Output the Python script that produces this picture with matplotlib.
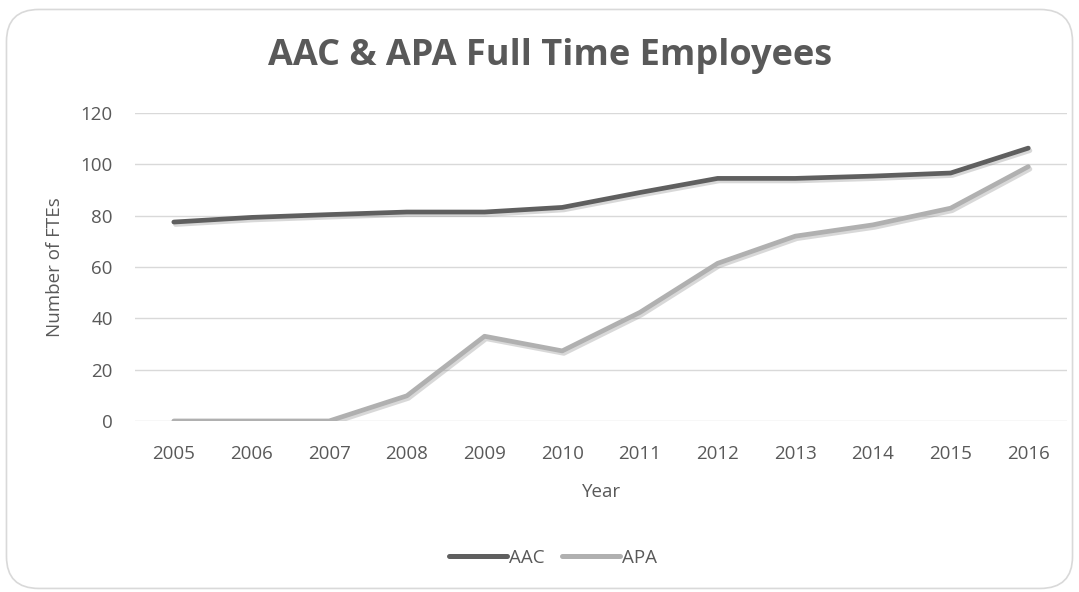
import matplotlib
matplotlib.use("Agg")
import matplotlib.pyplot as plt
import matplotlib.patheffects as pe
from matplotlib.patches import FancyBboxPatch

years = ["2005", "2006", "2007", "2008", "2009", "2010", "2011", "2012", "2013", "2014", "2015", "2016"]
aac = [77.5, 79.3, 80.4, 81.4, 81.4, 83.2, 89.0, 94.5, 94.5, 95.4, 96.6, 106.3]
apa = [0, 0, 0, 9.8, 33.0, 27.3, 42.3, 61.4, 72.0, 76.4, 82.9, 99.1]

plt.rcParams['font.family'] = ['Open Sans', 'DejaVu Sans']
txt = '#595959'
fs = 13.5

fig = plt.figure(figsize=(10.79, 5.92), dpi=100)
frame = FancyBboxPatch((0.006, 0.006), 0.988, 0.978,
                       boxstyle="round,pad=0,rounding_size=0.03",
                       transform=fig.transFigure, facecolor='white',
                       edgecolor='#d9d9d9', linewidth=1.2, mutation_aspect=1.8,
                       zorder=-10)
fig.patches.append(frame)

ax = fig.add_axes([0.1251, 0.2889, 0.8639, 0.5203])
ax.set_facecolor('none')
x = list(range(len(years)))
shadow = [pe.SimpleLineShadow(offset=(1.2, -1.8), shadow_color='gray', alpha=0.3), pe.Normal()]
ax.plot(x, aac, color='#5f5f5f', lw=3.4, solid_capstyle='round', solid_joinstyle='round',
        label='AAC', path_effects=shadow, zorder=3)
ax.plot(x, apa, color='#b0b0b0', lw=3.4, solid_capstyle='round', solid_joinstyle='round',
        label='APA', path_effects=shadow, zorder=3)

ax.set_xlim(-0.5, len(years) - 0.5)
ax.set_ylim(0, 120)
ax.set_yticks(range(0, 121, 20))
ax.set_xticks(x)
ax.set_xticklabels(years)
ax.grid(axis='y', color='#d9d9d9', lw=1)
ax.set_axisbelow(True)
for s in ax.spines.values():
    s.set_visible(False)
ax.tick_params(length=0, colors=txt, labelsize=fs)
ax.tick_params(axis='x', pad=17)
ax.tick_params(axis='y', pad=16)
ax.set_xlabel('Year', color=txt, fontsize=fs, labelpad=15)
ax.set_ylabel('Number of FTEs', color=txt, fontsize=fs, labelpad=12)

fig.text(0.51, 0.905, 'AAC & APA Full Time Employees', ha='center', va='center',
         fontsize=26, fontweight='bold', color=txt)

leg = fig.legend(loc='center', bbox_to_anchor=(0.5125, 0.058), ncol=2, frameon=False,
                 fontsize=fs, handlelength=3.1, handletextpad=0.1, columnspacing=0.9,
                 labelcolor=txt)
for h in leg.get_lines():
    h.set_linewidth(3.6)
    h.set_solid_capstyle('round')
    h.set_path_effects([])

fig.savefig('out.png', dpi=100)
